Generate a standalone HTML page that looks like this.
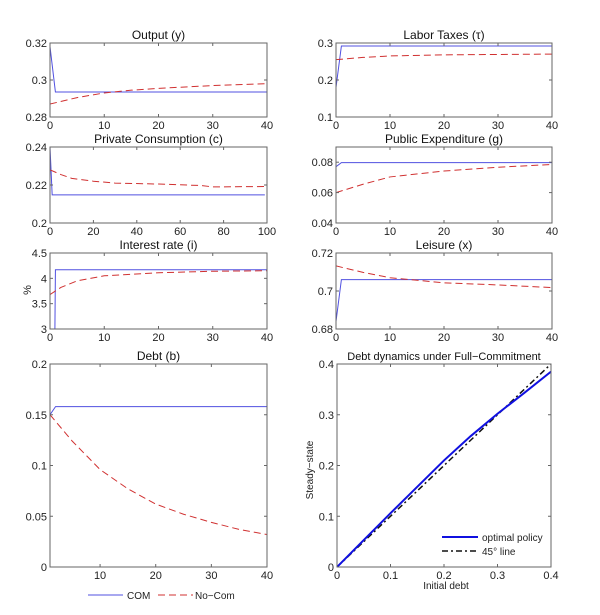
<!DOCTYPE html>
<html><head><meta charset="utf-8">
<style>
html,body{margin:0;padding:0;background:#fff;}
svg{display:block;font-family:"Liberation Sans",Arial,sans-serif;}
</style></head>
<body>
<svg id="fig" width="600" height="615" viewBox="0 0 600 615" xmlns="http://www.w3.org/2000/svg"></svg>
<script>
// ---- data (time, value) pairs ----
const outputCom = [[0,0.318],[1,0.2935],[40,0.2935]];
const outputNoCom = [[0,0.287],[5,0.2905],[10,0.293],[15,0.2945],[20,0.2955],[30,0.297],[40,0.298]];
const taxCom = [[0,0.18],[1,0.292],[40,0.292]];
const taxNoCom = [[0,0.255],[5,0.261],[10,0.265],[20,0.268],[30,0.269],[40,0.27]];
const consCom = [[0,0.24],[1,0.2148],[99,0.2148]];
const consNoCom = [[0,0.228],[5,0.2255],[10,0.2235],[20,0.222],[30,0.221],[50,0.2205],[70,0.2197],[75,0.219],[99,0.2192]];
const gCom = [[0,0.077],[1,0.0797],[40,0.0797]];
const gNoCom = [[0,0.06],[5,0.0655],[10,0.0703],[20,0.0742],[30,0.0767],[40,0.0785]];
const rateCom = [[0.9,2.95],[1,4.17],[40,4.17]];
const rateNoCom = [[0,3.68],[2,3.82],[5,3.95],[10,4.05],[20,4.11],[30,4.14],[40,4.15]];
const leisCom = [[0,0.684],[1,0.706],[40,0.706]];
const leisNoCom = [[0,0.7132],[5,0.7098],[10,0.707],[20,0.7043],[30,0.7032],[40,0.7018]];
const debtCom = [[1,0.15],[2,0.158],[40,0.158]];
const debtNoCom = [[1,0.15],[5,0.124],[10,0.096],[15,0.077],[20,0.062],[25,0.052],[30,0.044],[35,0.037],[40,0.032]];
const optimalPolicy = [[0,0],[0.05,0.053],[0.1,0.106],[0.15,0.158],[0.2,0.21],[0.25,0.258],[0.3,0.302],[0.35,0.343],[0.4,0.385]];
const line45 = [[0,0],[0.4,0.4]];
const ticks40 = [0,10,20,30,40];
const ticks100 = [0,20,40,60,80,100];
const ticksDebtX = [10,20,30,40];
const ticksDD = [0,0.1,0.2,0.3,0.4];

const NS="http://www.w3.org/2000/svg";
const svg=document.getElementById('fig');
function mk(tag,attrs,parent){const e=document.createElementNS(NS,tag);for(const k in attrs)e.setAttribute(k,attrs[k]);(parent||svg).appendChild(e);return e;}
function txt(s,attrs,parent){const e=mk('text',attrs,parent);e.textContent=s;return e;}

const BLUE='#5050e0', RED='#d03030';
function panel(o){
  const g=mk('g',{});
  
  
  const sx=v=>o.x0+(v-o.xd[0])/(o.xd[1]-o.xd[0])*(o.x1-o.x0);
  const sy=v=>o.y1-(v-o.yd[0])/(o.yd[1]-o.yd[0])*(o.y1-o.y0);
  const clip='c'+o.name;
  const cp=mk('clipPath',{id:clip},g);mk('rect',{x:o.x0,y:o.y0,width:o.x1-o.x0,height:o.y1-o.y0},cp);
  o.series.forEach(s=>{
    const p=mk('polyline',{points:s.d.map(q=>sx(q[0]).toFixed(2)+','+sy(q[1]).toFixed(2)).join(' '),fill:'none',stroke:s.c,'stroke-width':s.w||1,'stroke-dasharray':s.dash||'','clip-path':'url(#'+clip+')'},g);
    
    
  });
  const fr=mk('rect',{x:o.x0,y:o.y0,width:o.x1-o.x0,height:o.y1-o.y0,fill:'none',stroke:'#666','stroke-width':1},g);
  
  
  o.xt.forEach(t=>{const X=sx(t);
    mk('line',{x1:X,x2:X,y1:o.y1,y2:o.y1-3,stroke:'#666'},g);
    mk('line',{x1:X,x2:X,y1:o.y0,y2:o.y0+3,stroke:'#666'},g);
    const l=txt(String(t),{x:X,y:o.y1+12,'font-size':11,'text-anchor':'middle',fill:'#222'},g);
    
    
  });
  o.yt.forEach(t=>{const Y=sy(t);
    mk('line',{x1:o.x0,x2:o.x0+3,y1:Y,y2:Y,stroke:'#666'},g);
    mk('line',{x1:o.x1,x2:o.x1-3,y1:Y,y2:Y,stroke:'#666'},g);
    const l=txt(String(t),{x:o.x0-3,y:Y+4,'font-size':11,'text-anchor':'end',fill:'#222'},g);
    
    
  });
  const tt=txt(o.title,{x:(o.x0+o.x1)/2,y:o.y0-4,'font-size':o.tfs||12,'text-anchor':'middle',fill:'#111'},g);
  
  
  return {g,sx,sy};
}
const L0=50,L1=267,R0=336,R1=552;
const dash='7,4';
panel({name:'output-panel',title:'Output (y)',x0:L0,x1:L1,y0:43,y1:117,xd:[0,40],yd:[0.28,0.32],xt:ticks40,yt:[0.28,0.3,0.32],
  series:[{n:'output-com',d:outputCom,c:BLUE},{n:'output-nocom',d:outputNoCom,c:RED,dash}]});
panel({name:'labor-taxes-panel',title:'Labor Taxes (τ)',x0:R0,x1:R1,y0:43,y1:117,xd:[0,40],yd:[0.1,0.3],xt:ticks40,yt:[0.1,0.2,0.3],
  series:[{n:'tax-com',d:taxCom,c:BLUE},{n:'tax-nocom',d:taxNoCom,c:RED,dash}]});
panel({name:'consumption-panel',title:'Private Consumption (c)',x0:L0,x1:L1,y0:147,y1:223,xd:[0,100],yd:[0.2,0.24],xt:ticks100,yt:[0.2,0.22,0.24],
  series:[{n:'cons-com',d:consCom,c:BLUE},{n:'cons-nocom',d:consNoCom,c:RED,dash}]});
panel({name:'public-expenditure-panel',title:'Public Expenditure (g)',x0:R0,x1:R1,y0:147,y1:223,xd:[0,40],yd:[0.04,0.09],xt:ticks40,yt:[0.04,0.06,0.08],
  series:[{n:'g-com',d:gCom,c:BLUE},{n:'g-nocom',d:gNoCom,c:RED,dash}]});
panel({name:'interest-rate-panel',title:'Interest rate (i)',x0:L0,x1:L1,y0:253,y1:329,xd:[0,40],yd:[3,4.5],xt:ticks40,yt:[3,3.5,4,4.5],
  series:[{n:'rate-com',d:rateCom,c:BLUE},{n:'rate-nocom',d:rateNoCom,c:RED,dash}]});
panel({name:'leisure-panel',title:'Leisure (x)',x0:R0,x1:R1,y0:253,y1:329,xd:[0,40],yd:[0.68,0.72],xt:ticks40,yt:[0.68,0.7,0.72],
  series:[{n:'leisure-com',d:leisCom,c:BLUE},{n:'leisure-nocom',d:leisNoCom,c:RED,dash}]});
panel({name:'debt-panel',title:'Debt (b)',x0:L0,x1:L1,y0:364,y1:567,xd:[1,40],yd:[0,0.2],xt:ticksDebtX,yt:[0,0.05,0.1,0.15,0.2],
  series:[{n:'debt-com',d:debtCom,c:BLUE},{n:'debt-nocom',d:debtNoCom,c:RED,dash}]});
panel({name:'debt-dynamics-panel',title:'Debt dynamics under Full\u2212Commitment',tfs:11,x0:R0+1,x1:R1-1,y0:364,y1:567,xd:[0,0.4],yd:[0,0.4],xt:ticksDD,yt:ticksDD,
  series:[{n:'line-45',d:line45,c:'#111',w:1.5,dash:'6,3,2,3'},{n:'optimal-policy',d:optimalPolicy,c:'#1010e0',w:2}]});

// axis labels
const pl=txt('%',{x:0,y:0,'font-size':11,'text-anchor':'middle',fill:'#222',transform:'translate(31,290) rotate(-90)'});

const ss=txt('Steady\u2212state',{x:0,y:0,'font-size':10,'text-anchor':'middle',fill:'#222',transform:'translate(313,470) rotate(-90)'});

const idl=txt('Initial debt',{x:446,y:589,'font-size':10,'text-anchor':'middle',fill:'#222'});


// inner legend
const lg=mk('g',{});

mk('line',{x1:442,x2:478,y1:537,y2:537,stroke:'#1010e0','stroke-width':2},lg);
txt('optimal policy',{x:482,y:541,'font-size':10,fill:'#222'},lg);
mk('line',{x1:442,x2:478,y1:551,y2:551,stroke:'#111','stroke-width':1.5,'stroke-dasharray':'6,3,2,3'},lg);
txt('45° line',{x:482,y:555,'font-size':10,fill:'#222'},lg);

// bottom legend
const bl=mk('g',{});

mk('line',{x1:88,x2:123,y1:595,y2:595,stroke:BLUE},bl);
txt('COM',{x:127,y:599,'font-size':10,fill:'#222'},bl);
mk('line',{x1:158,x2:193,y1:595,y2:595,stroke:RED,'stroke-dasharray':dash},bl);
txt('No\u2212Com',{x:195,y:599,'font-size':10,fill:'#222'},bl);
</script>
</body></html>
